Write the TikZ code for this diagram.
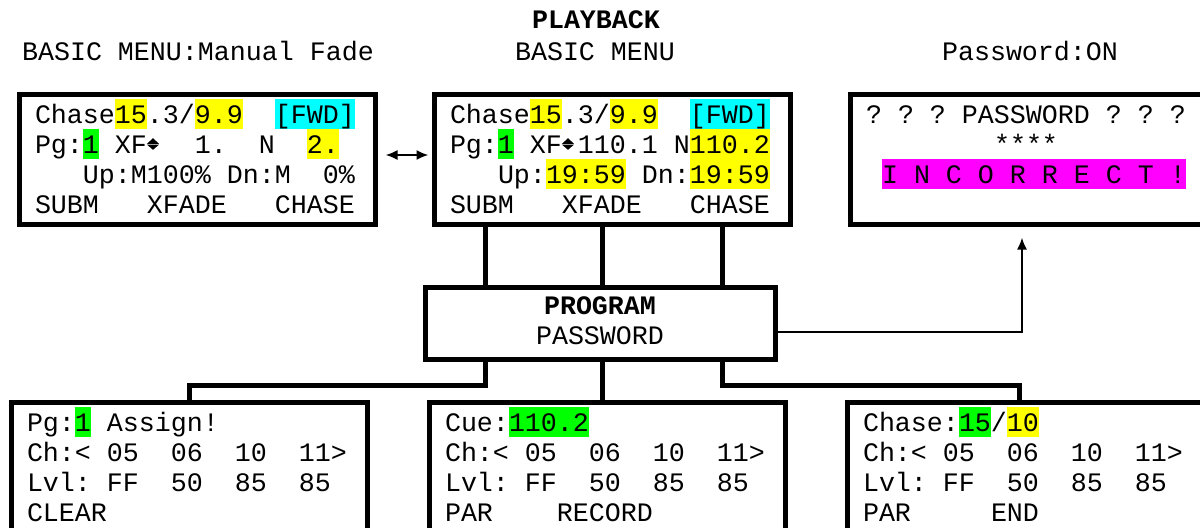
\documentclass[tikz,border=0pt]{standalone}
\usepackage{fontspec}
\setmainfont{Liberation Mono}
\usetikzlibrary{arrows.meta,calc,positioning}
\definecolor{LcdYellow}{RGB}{255,255,0}
\definecolor{LcdCyan}{RGB}{0,255,255}
\definecolor{LcdGreen}{RGB}{0,255,0}
\definecolor{LcdMagenta}{RGB}{255,0,255}
% one LCD cell is 8pt wide, one row 15pt high; ~ is one empty cell
\newcommand\lcd{\fontsize{13.33}{15}\selectfont\frenchspacing
  \def~{\makebox[8pt]{}}}
\newcommand\rowstrut{\rule[-3pt]{0pt}{15pt}}
\newcommand\hl[2]{{\setlength\fboxsep{0pt}\colorbox{#1}{\rowstrut#2}}}
\newcommand\hy[1]{\hl{LcdYellow}{#1}}
\newcommand\hc[1]{\hl{LcdCyan}{#1}}
\newcommand\hg[1]{\hl{LcdGreen}{#1}}
\newcommand\hm[1]{\hl{LcdMagenta}{#1}}
% up/down marker of the LCD
\newcommand\updn{\makebox[8pt][l]{\tikz[x=1pt,y=1pt,baseline=0pt]{%
  \fill (0,4.6)--(6,4.6)--(3,7.4)--cycle (0,4.2)--(6,4.2)--(3,1.6)--cycle;}}}
\tikzset{
  lcdbox/.style={draw,line width=2.5pt,text width=162pt,inner xsep=8pt,
    inner ysep=2.5pt,align=left,
    execute at begin node=\rowstrut,execute at end node=\rowstrut},
  progbox/.style={draw,line width=2.5pt,minimum width=175pt,minimum height=36pt,
    align=center,execute at begin node=\rowstrut,execute at end node=\rowstrut},
  head/.style={anchor=base},
  wire/.style={line width=2.5pt},
  arr/.style={line width=1pt,-{Latex[length=6pt,width=5pt]}},
  dbl/.style={line width=1pt,{Latex[length=6pt,width=5pt]}-{Latex[length=6pt,width=5pt]}}
}
\begin{document}
\begin{tikzpicture}[x=0.5pt,y=-0.5pt,font=\lcd]
  \useasboundingbox (0,0) rectangle (1200,527);
  \clip (0,0) rectangle (1200,527);
  % titles
  \node[head] (tPlay) at (596,28) {\bfseries PLAYBACK};
  \node[head] (tManual) at (198,60) {BASIC MENU:Manual Fade};
  \node[head] (tBasic) at (595,60) {BASIC MENU};
  \node[head] (tPass) at (1030,60) {Password:ON};
  % upper screens
  \node[lcdbox] (manual) at (197,159)
    {Chase\hy{15}.3/\hy{9.9}~~\hc{[FWD]}\\
     Pg:\hg{1}~XF\updn~~1.~~N~~\hy{2.}\\
     ~~~Up:M100\%~Dn:M~~0\%\\
     SUBM~~~XFADE~~~CHASE};
  \node[lcdbox] (basic) at (612,159)
    {Chase\hy{15}.3/\hy{9.9}~~\hc{[FWD]}\\
     Pg:\hg{1}~XF\updn110.1~N\hy{110.2}\\
     ~~~Up:\hy{19:59}~Dn:\hy{19:59}\\
     SUBM~~~XFADE~~~CHASE};
  \node[lcdbox] (pwd) at (1028,159)
    {?~?~?~PASSWORD~?~?~?\\
     ~~~~~~~~****\\
     ~\hm{I~N~C~O~R~R~E~C~T~!}\\
     ~};
  % program block
  \node[progbox] (prog) at (600,323.5) {\bfseries PROGRAM\\PASSWORD};
  % lower screens
  \node[lcdbox] (assign) at (189,467)
    {Pg:\hg{1}~Assign!\\
     Ch:<~05~~06~~10~~11>\\
     Lvl:~FF~~50~~85~~85\\
     CLEAR};
  \node[lcdbox] (cue) at (607,467)
    {Cue:\hg{110.2}\\
     Ch:<~05~~06~~10~~11>\\
     Lvl:~FF~~50~~85~~85\\
     PAR~~~~RECORD};
  \node[lcdbox] (chase) at (1025,467)
    {Chase:\hg{15}/\hy{10}\\
     Ch:<~05~~06~~10~~11>\\
     Lvl:~FF~~50~~85~~85\\
     PAR~~~~~END};
  % connections
  \draw[dbl,shorten <=4pt,shorten >=1.5pt] ([yshift=2pt]manual.east) -- ([yshift=2pt]basic.west);
  \coordinate (jA) at ($(prog.north)+(-115,0)$);
  \coordinate (jB) at ($(prog.north)+(2,0)$);
  \coordinate (jC) at ($(prog.north)+(122,0)$);
  \foreach \j in {jA,jB,jC}
    \draw[wire] (\j) -- (\j |- basic.south);
  \coordinate (kA) at ($(prog.south)+(-115,0)$);
  \coordinate (kB) at ($(prog.south)+(2,0)$);
  \coordinate (kC) at ($(prog.south)+(122,0)$);
  \draw[wire] (kA) -- ++(0,23.5) -| (assign.north);
  \draw[wire] (kB) -- (kB |- cue.north);
  \draw[wire] (kC) -- ++(0,23.5) -| ([xshift=-3pt]chase.north);
  \draw[arr] ([yshift=-4.25pt]prog.east) -| ([xshift=-3pt,yshift=-5.5pt]pwd.south);
\end{tikzpicture}
\end{document}
